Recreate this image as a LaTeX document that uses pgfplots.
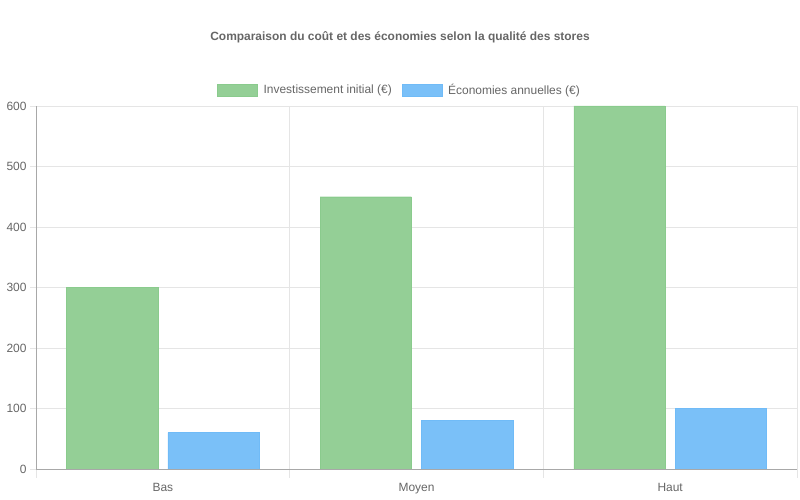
\documentclass[border=0pt]{standalone}
\usepackage{pgfplots}
\pgfplotsset{compat=1.18}
\usepackage{fontspec}
\setmainfont{Liberation Sans}
\definecolor{txt}{HTML}{666666}
\definecolor{gridc}{HTML}{E5E5E5}
\definecolor{axisc}{HTML}{A8A8A8}
\definecolor{gbar}{RGB}{148,207,150}
\definecolor{gedge}{RGB}{138,203,141}
\definecolor{bbar}{RGB}{122,192,248}
\definecolor{bedge}{RGB}{112,187,247}
\begin{document}
\begin{tikzpicture}[x=1bp,y=1bp]
\path[use as bounding box] (0,0) rectangle (800,500);
\node[font=\bfseries\fontsize{12}{14}\selectfont, text=txt] at (400,463)
  {Comparaison du coût et des économies selon la qualité des stores};
\begin{axis}[
  at={(36bp,31bp)}, anchor=south west,
  scale only axis, width=761bp, height=363bp,
  xmin=-0.5, xmax=2.5, ymin=0, ymax=600,
  ytick={0,100,...,600},
  xtick={0,1,2}, xticklabels={Bas,Moyen,Haut},
  minor xtick={-0.5,0.5,1.5,2.5},
  major x tick style={draw=none},
  xminorgrids=true, ymajorgrids=true, xmajorgrids=false,
  grid style={draw=gridc, line width=0.8bp},
  minor grid style={draw=gridc, line width=0.8bp},
  tick align=outside,
  major tick length=6bp, minor tick length=9bp,
  tick style={draw=gridc, line width=0.8bp},
  axis x line*=bottom, axis y line*=left,
  axis line style={draw=axisc, line width=0.8bp, -},
  ybar, bar width=0.36,
  ticklabel style={font=\fontsize{12}{14}\selectfont, text=txt},
  xticklabel style={yshift=-5bp},
  /pgf/number format/assume math mode=true,
  legend columns=2,
  legend style={at={(0.5,1)}, anchor=south, xshift=-17bp, yshift=6bp, draw=none,
    font=\fontsize{12}{14}\selectfont, text=txt,
    /tikz/every odd column/.append style={column sep=4bp},
    /tikz/every even column/.append style={column sep=8bp}},
  legend image code/.code={\draw[#1] (0bp,-6bp) rectangle (40bp,6bp);},
]
\addplot[fill=gbar, draw=gedge, bar shift=-0.2] coordinates {(0,300) (1,450) (2,600)};
\addplot[fill=bbar, draw=bedge, bar shift=0.2] coordinates {(0,60) (1,80) (2,100)};
\legend{Investissement initial (€), Économies annuelles (€)}
\end{axis}
\end{tikzpicture}
\end{document}
